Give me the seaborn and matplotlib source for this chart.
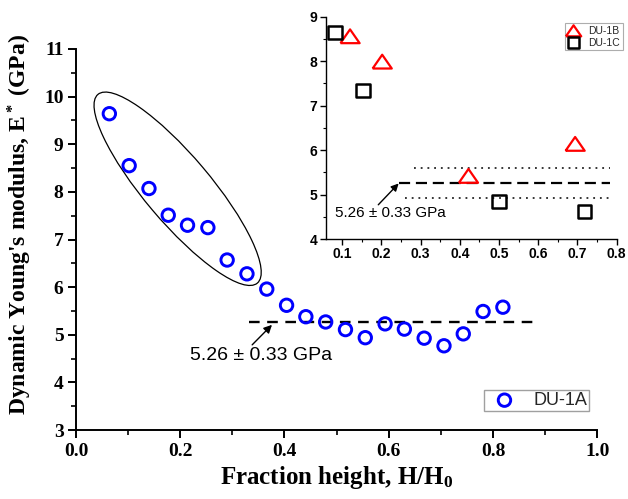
import matplotlib
matplotlib.use("Agg")
import matplotlib.pyplot as plt
import seaborn as sns
import pandas as pd
from matplotlib.patches import Ellipse
from matplotlib.transforms import ScaledTranslation
from matplotlib.ticker import MultipleLocator

# ---------------- data ----------------
du1a_x = [0.064, 0.102, 0.140, 0.177, 0.214, 0.253, 0.290, 0.328, 0.366, 0.404, 0.441,
          0.479, 0.517, 0.555, 0.593, 0.630, 0.668, 0.706, 0.743, 0.781, 0.819]
du1a_y = [9.64, 8.55, 8.07, 7.51, 7.30, 7.25, 6.57, 6.28, 5.96, 5.62, 5.38,
          5.27, 5.11, 4.94, 5.23, 5.12, 4.93, 4.77, 5.02, 5.49, 5.58]

du1b_x = [0.120, 0.202, 0.422, 0.694]
du1b_y = [8.56, 7.99, 5.42, 6.14]

du1c_x = [0.081, 0.153, 0.500, 0.718]
du1c_y = [8.65, 7.34, 4.84, 4.62]

mean_E = 5.26
std_E = 0.33
ann_text = "5.26 \u00b1 0.33 GPa"

x_ticks_main = [0.0, 0.2, 0.4, 0.6, 0.8, 1.0]
y_ticks_main = [3, 4, 5, 6, 7, 8, 9, 10, 11]
x_ticks_inset = [0.1, 0.2, 0.3, 0.4, 0.5, 0.6, 0.7, 0.8]
y_ticks_inset = [4, 5, 6, 7, 8, 9]

df_a = pd.DataFrame({"x": du1a_x, "y": du1a_y})
df_b = pd.DataFrame({"x": du1b_x, "y": du1b_y})
df_c = pd.DataFrame({"x": du1c_x, "y": du1c_y})

# ---------------- style ----------------
sns.set_theme(style="ticks")
plt.rcParams["font.family"] = ["Liberation Sans", "DejaVu Sans"]
plt.rcParams["mathtext.fontset"] = "custom"
plt.rcParams["mathtext.rm"] = "Liberation Serif:bold"
plt.rcParams["mathtext.it"] = "Liberation Serif:bold"
plt.rcParams["mathtext.bf"] = "Liberation Serif:bold"

fig = plt.figure(figsize=(6.28, 4.99), dpi=100)
fig.patch.set_facecolor("white")

# wide, flat open triangle like the reference
flat_triangle = [(-1.0, -0.72), (1.0, -0.72), (0.0, 0.72), (-1.0, -0.72)]

# ---------------- main axes ----------------
ax = fig.add_axes([0.121, 0.138, 0.830, 0.764])
ax.set_facecolor("white")
sns.scatterplot(data=df_a, x="x", y="y", ax=ax, marker="o", s=80,
                facecolors="none", edgecolor="#0000ff", linewidth=2.1,
                label="DU-1A", zorder=3)

ax.hlines(mean_E, 0.332, 0.877, colors="black", linewidth=1.7,
          linestyles=(0, (4.5, 3.2)))

ax.annotate("", xy=(0.376, 5.21), xytext=(0.338, 4.79),
            arrowprops=dict(arrowstyle="-|>", color="black", lw=1.0,
                            mutation_scale=12, shrinkA=0, shrinkB=0))
ax.text(0.219, 4.57, ann_text, fontsize=14, family="Liberation Sans",
        ha="left", va="center", color="black")

# ellipse drawn in physical units around a data-space centre
ell_trans = fig.dpi_scale_trans + ScaledTranslation(0.195, 8.065, ax.transData)
ell = Ellipse((0, 0), width=2.47, height=0.66, angle=-49.8, fill=False,
              edgecolor="black", linewidth=0.9, transform=ell_trans, zorder=2)
ax.add_patch(ell)

ax.set_xlim(0.0, 1.0)
ax.set_ylim(3, 11)
ax.set_xticks(x_ticks_main)
ax.set_yticks(y_ticks_main)
ax.set_xticklabels([f"{v:.1f}" for v in x_ticks_main])
ax.set_yticklabels([str(v) for v in y_ticks_main])
ax.xaxis.set_minor_locator(MultipleLocator(0.1))
ax.yaxis.set_minor_locator(MultipleLocator(0.5))
ax.tick_params(which="major", direction="out", length=6, width=1.4, color="black",
               labelsize=14, pad=3)
ax.tick_params(which="minor", direction="out", length=3.5, width=1.2, color="black")
for lab in ax.get_xticklabels() + ax.get_yticklabels():
    lab.set_family("Liberation Serif")
    lab.set_fontweight("bold")
    lab.set_color("black")
sns.despine(ax=ax)
for sp in ["left", "bottom"]:
    ax.spines[sp].set_color("black")
    ax.spines[sp].set_linewidth(1.4)

ax.set_xlabel("Fraction height, H/H$_0$", fontsize=18, family="Liberation Serif",
              fontweight="bold", color="black")
ax.set_ylabel("Dynamic Young's modulus, E$^*$ (GPa)", fontsize=17,
              family="Liberation Serif", fontweight="bold", color="black")
ax.xaxis.set_label_coords(0.5, -0.09)
ax.yaxis.set_label_coords(-0.08, 0.54)

leg = ax.legend(loc="lower right", bbox_to_anchor=(0.985, 0.05), borderaxespad=0,
                frameon=True, fancybox=False, fontsize=13, handletextpad=0.6,
                handlelength=2.0, borderpad=0.12, markerscale=1.0)
leg.get_frame().set_edgecolor("#888888")
leg.get_frame().set_linewidth(1.0)

# ---------------- inset axes ----------------
axi = fig.add_axes([0.519, 0.521, 0.463, 0.4455])
axi.set_facecolor("white")
sns.scatterplot(data=df_b, x="x", y="y", ax=axi, marker=flat_triangle, s=190,
                facecolors="none", edgecolor="#ff0000", linewidth=1.6,
                label="DU-1B", zorder=3)
sns.scatterplot(data=df_c, x="x", y="y", ax=axi, marker="s", s=95,
                facecolors="none", edgecolor="black", linewidth=1.8,
                label="DU-1C", zorder=3)

axi.hlines(mean_E, 0.244, 0.784, colors="black", linewidth=1.6,
           linestyles=(0, (5.0, 2.6)))
axi.hlines(mean_E + std_E, 0.282, 0.784, colors="black", linewidth=1.1,
           linestyles=(0, (1.2, 3.2)))
axi.hlines(mean_E - std_E, 0.260, 0.784, colors="black", linewidth=1.1,
           linestyles=(0, (1.2, 3.2)))

axi.annotate("", xy=(0.244, 5.25), xytext=(0.192, 4.77),
             arrowprops=dict(arrowstyle="-|>", color="black", lw=1.0,
                             mutation_scale=11, shrinkA=0, shrinkB=0))
axi.text(0.081, 4.58, ann_text, fontsize=11, family="Liberation Sans",
         ha="left", va="center", color="black")

axi.set_xlim(0.0585, 0.8)
axi.set_ylim(4, 9)
axi.set_xticks(x_ticks_inset)
axi.set_yticks(y_ticks_inset)
axi.set_xticklabels([f"{v:.1f}" for v in x_ticks_inset])
axi.set_yticklabels([str(v) for v in y_ticks_inset])
axi.xaxis.set_minor_locator(MultipleLocator(0.05))
axi.yaxis.set_minor_locator(MultipleLocator(0.5))
axi.tick_params(which="major", direction="out", length=4, width=1.0, color="black",
                labelsize=10, pad=2)
axi.tick_params(which="minor", direction="out", length=2.5, width=0.8, color="black")
for lab in axi.get_xticklabels() + axi.get_yticklabels():
    lab.set_family("Liberation Sans")
    lab.set_fontweight("bold")
    lab.set_color("black")
axi.set_xlabel("")
axi.set_ylabel("")
sns.despine(ax=axi)
for sp in ["left", "bottom"]:
    axi.spines[sp].set_color("black")
    axi.spines[sp].set_linewidth(1.0)

legi = axi.legend(loc="upper right", bbox_to_anchor=(1.02, 0.972), borderaxespad=0,
                  frameon=True, fancybox=False, fontsize=7.5, handletextpad=0.8,
                  handlelength=1.2, borderpad=0.25, labelspacing=0.2, markerscale=0.8)
legi.get_frame().set_edgecolor("#999999")
legi.get_frame().set_linewidth(0.8)

fig.savefig("out.png", dpi=100, facecolor="white")
